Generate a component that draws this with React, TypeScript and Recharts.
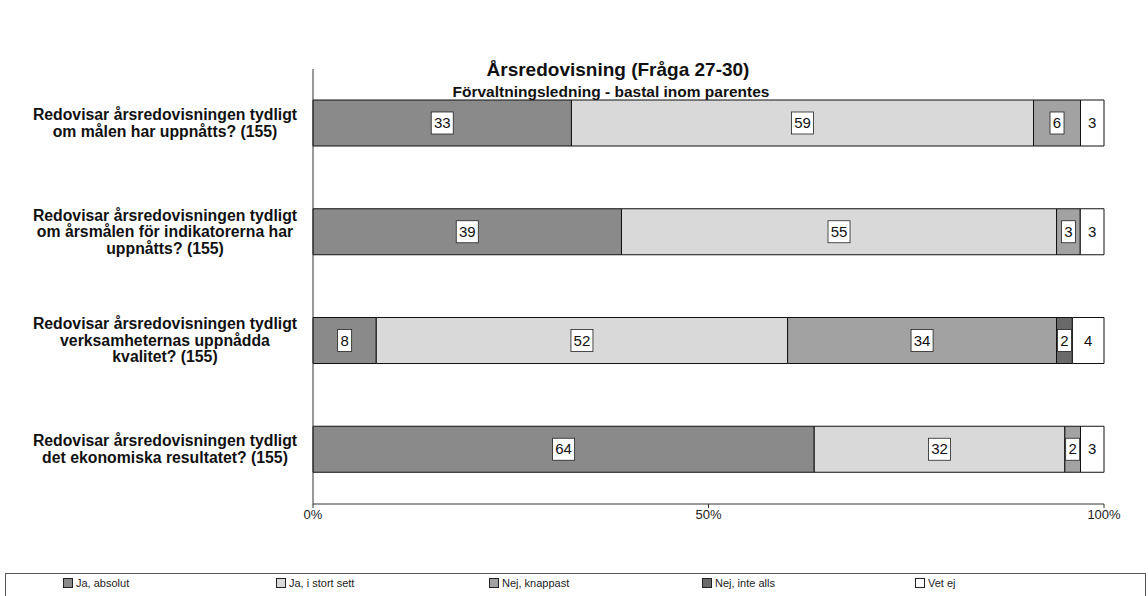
import { BarChart, Bar, XAxis, YAxis, LabelList } from 'recharts';

const FONT = '"Liberation Sans", Arial, sans-serif';

const kategorier = [
  'Redovisar årsredovisningen tydligt|om målen har uppnåtts? (155)',
  'Redovisar årsredovisningen tydligt|om årsmålen för indikatorerna har|uppnåtts? (155)',
  'Redovisar årsredovisningen tydligt|verksamheternas uppnådda|kvalitet? (155)',
  'Redovisar årsredovisningen tydligt|det ekonomiska resultatet? (155)',
];
const jaAbsolut = [33, 39, 8, 64];
const jaIStortSett = [59, 55, 52, 32];
const nejKnappast = [6, 3, 34, 2];
const nejInteAlls = [0, 0, 2, 0];
const vetEj = [3, 3, 4, 3];
const xTicks = [0, 0.5, 1];

const SERIER = [
  { key: 'jaAbsolut', namn: 'Ja, absolut', fill: '#8a8a8a', box: true },
  { key: 'jaIStortSett', namn: 'Ja, i stort sett', fill: '#d9d9d9', box: true },
  { key: 'nejKnappast', namn: 'Nej, knappast', fill: '#a2a2a2', box: true },
  { key: 'nejInteAlls', namn: 'Nej, inte alls', fill: '#6a6a6a', box: true },
  { key: 'vetEj', namn: 'Vet ej', fill: '#ffffff', box: false },
];

const data = kategorier.map((namn, i) => ({
  namn,
  jaAbsolut: jaAbsolut[i],
  jaIStortSett: jaIStortSett[i],
  nejKnappast: nejKnappast[i],
  nejInteAlls: nejInteAlls[i],
  vetEj: vetEj[i],
}));

const FrageTick = ({ x, y, payload }: any) => {
  const rader = String(payload.value).split('|');
  const start = y - ((rader.length - 1) * 16.5) / 2 + 5;
  return (
    <text x={x - 140} y={start} textAnchor="middle" fontFamily={FONT} fontSize={15.8} fontWeight="bold" fill="#111">
      {rader.map((r, i) => (
        <tspan key={i} x={x - 140} y={start + i * 16.5}>{r}</tspan>
      ))}
    </text>
  );
};

const etikett = (box: boolean) => (props: any) => {
  const { x, y, width, height, value } = props;
  const v = Array.isArray(value) ? value[1] - value[0] : value;
  if (!v) return null;
  const cx = x + width / 2;
  const cy = y + height / 2;
  const w = String(v).length * 8 + 6;
  return (
    <g>
      {box && <rect x={cx - w / 2} y={cy - 11} width={w} height={22} fill="#fff" stroke="#222" strokeWidth={0.8} />}
      <text x={cx} y={cy + 5} textAnchor="middle" fontFamily={FONT} fontSize={15} fill="#111">{v}</text>
    </g>
  );
};

export default function App() {
  return (
    <div style={{ position: 'absolute', left: 0, top: 0, width: 1148, height: 596, background: '#fff', overflow: 'hidden', fontFamily: FONT }}>
      <BarChart
        width={1148}
        height={596}
        data={data}
        layout="vertical"
        stackOffset="expand"
        barSize={46}
        margin={{ top: 69, right: 44, bottom: 62, left: 13 }}
      >
        <XAxis
          type="number"
          domain={[0, 1]}
          ticks={xTicks}
          tickFormatter={(v: number) => `${Math.round(v * 100)}%`}
          axisLine={{ stroke: '#333' }}
          tickLine={{ stroke: '#333' }}
          tickSize={4}
          tick={{ fontFamily: FONT, fontSize: 13, fill: '#222' }}
          height={30}
          interval={0}
        />
        <YAxis
          type="category"
          dataKey="namn"
          width={300}
          axisLine={{ stroke: '#333' }}
          tickLine={false}
          tick={<FrageTick />}
          interval={0}
        />
        {SERIER.map((s) => (
          <Bar key={s.key} dataKey={s.key} name={s.namn} stackId="a" fill={s.fill} stroke="#111" strokeWidth={1} isAnimationActive={false}>
            <LabelList dataKey={s.key} content={etikett(s.box)} />
          </Bar>
        ))}
      </BarChart>
      <div style={{ position: 'absolute', left: 418, width: 400, top: 59, textAlign: 'center', fontSize: 19, fontWeight: 'bold', color: '#111', lineHeight: '22px' }}>
        Årsredovisning (Fråga 27-30)
      </div>
      <div style={{ position: 'absolute', left: 361, width: 500, top: 83, textAlign: 'center', fontSize: 15.5, fontWeight: 'bold', color: '#111', lineHeight: '17px' }}>
        Förvaltningsledning - bastal inom parentes
      </div>
      <div style={{ position: 'absolute', left: 5, top: 573, width: 1141, height: 40, border: '1px solid #555', boxSizing: 'border-box' }}>
        {SERIER.map((s, i) => (
          <div key={s.key} style={{ position: 'absolute', left: 57 + i * 213, top: 3, display: 'flex', alignItems: 'center', fontSize: 11, color: '#222' }}>
            <span style={{ display: 'inline-block', width: 8, height: 8, border: '1px solid #222', background: s.fill, marginRight: 3 }} />
            {s.namn}
          </div>
        ))}
      </div>
    </div>
  );
}
